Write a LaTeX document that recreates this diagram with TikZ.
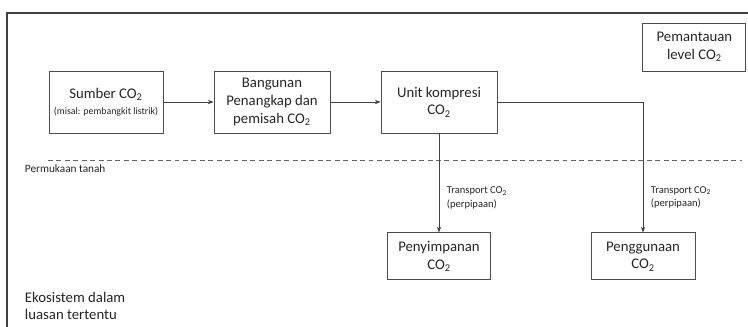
\documentclass[tikz,border=0pt]{standalone}
\usepackage{fontspec}
\setmainfont{Carlito}
\usepackage{tikz}
\usetikzlibrary{arrows.meta,positioning,calc}
\newcommand{\cotwo}{CO\textsubscript{2}}

\begin{document}
\begin{tikzpicture}[
    box/.style={draw=black!70, line width=0.6pt, minimum height=1.55cm, align=center, font=\fontsize{10.5}{12.5}\selectfont, text=black!85},
    arr/.style={-{Stealth[length=4pt,width=3pt]}, line width=0.5pt, black!75},
    note/.style={align=left, font=\fontsize{7.5}{9.5}\selectfont, text=black!85}
]
\useasboundingbox (0,0) rectangle (18.7,-8.175);
% frame
\draw[black!75, line width=1.1pt] (18.8,-0.325) -- (0.175,-0.325) -- (0.175,-8.3);

\node[box, minimum width=2.85cm] (src) at (2.65,-2.55) {Sumber \cotwo\\[-1pt]{\fontsize{7}{8}\selectfont(misal: pembangkit listrik)}};
\node[box, minimum width=2.9cm] (cap) at (6.8,-2.55) {Bangunan\\Penangkap dan\\pemisah \cotwo};
\node[box, minimum width=2.9cm] (comp) at (10.975,-2.55) {Unit kompresi\\\cotwo};
\node[box, minimum width=2.575cm, minimum height=1.2cm] (mon) at (17.36,-1.175) {Pemantauan\\level \cotwo};
\node[box, minimum width=2.575cm, minimum height=1.175cm] (store) at (10.975,-6.41) {Penyimpanan\\\cotwo};
\node[box, minimum width=2.6cm, minimum height=1.175cm] (use) at (16.075,-6.41) {Penggunaan\\\cotwo};

% permukaan tanah
\coordinate (g1) at (1.2,-4.0);
\coordinate (g2) at (18.55,-4.0);
\draw[black!60, line width=0.6pt, dash pattern=on 3.5pt off 2.5pt] (g1) -- (g2);
\node[note, anchor=west, font=\fontsize{8}{9}\selectfont] (ground) at (0.5,-4.225) {Permukaan tanah};

\draw[arr] (src) -- (cap);
\draw[arr] (cap) -- (comp);
\draw[arr] (comp.south) -- node[note, right, pos=0.65, xshift=2pt] {Transport \cotwo\\(perpipaan)} (store.north);
\draw[arr] (comp.east) -| node[note, right, pos=0.866, xshift=2pt] {Transport \cotwo\\(perpipaan)} (use.north);

\node[align=left, anchor=west, font=\fontsize{10.5}{12.5}\selectfont, text=black!85] (eco) at (0.5,-7.65) {Ekosistem dalam\\luasan tertentu};
\end{tikzpicture}
\end{document}
